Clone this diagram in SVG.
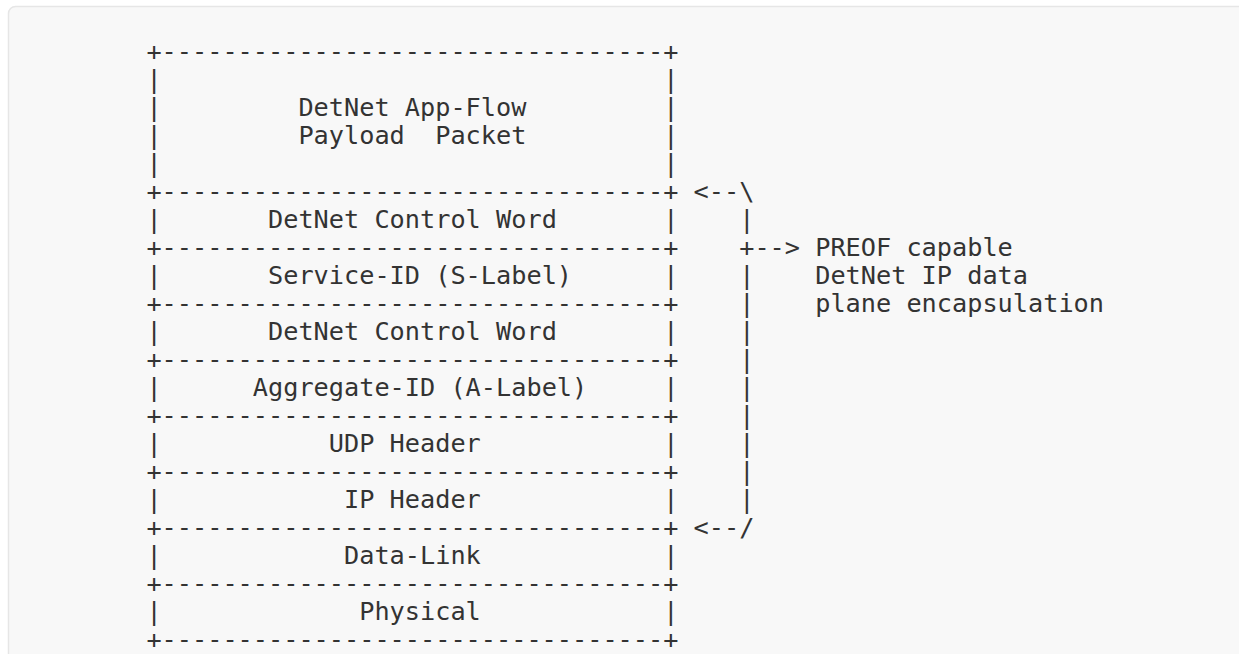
<svg xmlns="http://www.w3.org/2000/svg" width="1239" height="654" viewBox="0 0 1239 654">
<style>
text{font-family:"DejaVu Sans Mono","Liberation Mono",monospace;font-size:25.25px;fill:#333333;white-space:pre}
.sep{letter-spacing:0}
</style>
<defs>
<text id="sepline" class="sep" textLength="532" lengthAdjust="spacing">+---------------------------------+</text>
</defs>
<rect x="0" y="0" width="1239" height="654" fill="#ffffff"/>
<rect x="8.5" y="6.5" width="1280" height="700" rx="7" fill="#f8f8f8" stroke="#e6e6e6" stroke-width="1.5"/>
<g id="frame">
<use href="#sepline" x="146.4" y="60"/>
<use href="#sepline" x="146.4" y="200"/>
<use href="#sepline" x="146.4" y="256"/>
<use href="#sepline" x="146.4" y="312"/>
<use href="#sepline" x="146.4" y="368"/>
<use href="#sepline" x="146.4" y="424"/>
<use href="#sepline" x="146.4" y="480"/>
<use href="#sepline" x="146.4" y="536"/>
<use href="#sepline" x="146.4" y="592"/>
<use href="#sepline" x="146.4" y="648"/>
</g>
<g id="payload">
<text x="146.4" y="88">|</text><text x="663.2" y="88">|</text>
<text x="146.4" y="116">|</text><text x="298.4" y="116">DetNet App-Flow</text><text x="663.2" y="116">|</text>
<text x="146.4" y="144">|</text><text x="298.4" y="144" xml:space="preserve">Payload  Packet</text><text x="663.2" y="144">|</text>
<text x="146.4" y="172">|</text><text x="663.2" y="172">|</text>
</g>
<g id="cw1">
<text x="146.4" y="228">|</text><text x="268" y="228">DetNet Control Word</text><text x="663.2" y="228">|</text>
</g>
<g id="slabel">
<text x="146.4" y="284">|</text><text x="268" y="284">Service-ID (S-Label)</text><text x="663.2" y="284">|</text>
</g>
<g id="cw2">
<text x="146.4" y="340">|</text><text x="268" y="340">DetNet Control Word</text><text x="663.2" y="340">|</text>
</g>
<g id="alabel">
<text x="146.4" y="396">|</text><text x="252.8" y="396">Aggregate-ID (A-Label)</text><text x="663.2" y="396">|</text>
</g>
<g id="udp">
<text x="146.4" y="452">|</text><text x="328.8" y="452">UDP Header</text><text x="663.2" y="452">|</text>
</g>
<g id="ip">
<text x="146.4" y="508">|</text><text x="344" y="508">IP Header</text><text x="663.2" y="508">|</text>
</g>
<g id="datalink">
<text x="146.4" y="564">|</text><text x="344" y="564">Data-Link</text><text x="663.2" y="564">|</text>
</g>
<g id="physical">
<text x="146.4" y="620">|</text><text x="359.2" y="620">Physical</text><text x="663.2" y="620">|</text>
</g>
<g id="connectors">
<text x="693.6" y="200">&lt;--\</text>
<text x="739.2" y="228">|</text>
<text x="739.2" y="256">+--&gt;</text>
<text x="739.2" y="284">|</text>
<text x="739.2" y="312">|</text>
<text x="739.2" y="340">|</text>
<text x="739.2" y="368">|</text>
<text x="739.2" y="396">|</text>
<text x="739.2" y="424">|</text>
<text x="739.2" y="452">|</text>
<text x="739.2" y="480">|</text>
<text x="739.2" y="508">|</text>
<text x="693.6" y="536">&lt;--/</text>
</g>
<g id="preof-label">
<text x="815.2" y="256">PREOF capable</text>
<text x="815.2" y="284">DetNet IP data</text>
<text x="815.2" y="312">plane encapsulation</text>
</g>
</svg>
